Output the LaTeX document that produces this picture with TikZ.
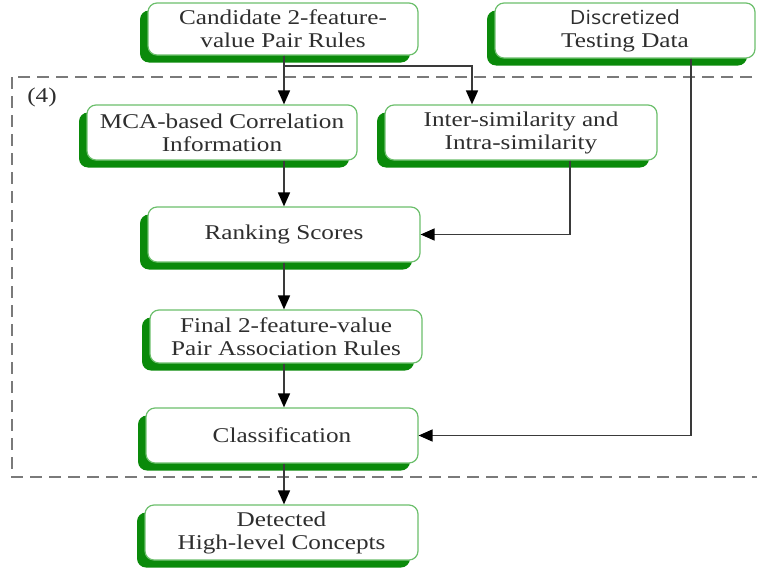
\documentclass[tikz,border=0pt]{standalone}
\usepackage{fontspec}
\setmainfont{Liberation Serif}[FakeStretch=1.2]
\newfontfamily\discfont{Open Sans}[FakeStretch=1.1]
\usetikzlibrary{arrows.meta,shadows}

\definecolor{boxgreen}{HTML}{6CBF6C}
\definecolor{shadowgreen}{HTML}{0A8A0A}
\definecolor{textgray}{HTML}{2E2E2E}
\definecolor{linegray}{HTML}{3A3A3A}
\definecolor{dashgray}{HTML}{7A7A7A}

\tikzset{
  stagebox/.style={
    draw=boxgreen, line width=1.2pt, fill=white, rounded corners=9pt,
    align=center, text=textgray, inner sep=0pt,
    font=\fontsize{21}{23}\selectfont,
    copy shadow={shadow xshift=-8pt, shadow yshift=-7.5pt,
                 fill=shadowgreen, draw=none}},
  link/.style={draw=linegray, line width=1.6pt,
    -{Triangle[length=14pt,width=12pt,fill=black,color=black]}},
  region/.style={draw=dashgray, line width=1.8pt, dash pattern=on 12pt off 7pt}
}

\begin{document}
\begin{tikzpicture}[x=1pt,y=-1pt]
  \useasboundingbox (0,0) rectangle (757,570);
  \clip (0,0) rectangle (757,570);

  % dashed frame of step (4)
  \draw[region] (12,77) rectangle (780,477);
  \node[text=textgray, font=\fontsize{21}{23}\selectfont] (tag) at (42,97) {(4)};

  % process boxes
  \node[stagebox, minimum width=270pt, minimum height=52pt] (cand) at (283,29)
    {Candidate 2-feature-\\value Pair Rules};
  \node[stagebox, minimum width=260pt, minimum height=55pt] (disc) at (625,30.5)
    {{\discfont\fontsize{19.5}{23}\selectfont Discretized}\\Testing Data};
  \node[stagebox, minimum width=270pt, minimum height=55pt] (mca) at (222,132.5)
    {MCA-based Correlation\\Information};
  \node[stagebox, minimum width=272pt, minimum height=55pt] (inter) at (521,132.5)
    {Inter-similarity and\\Intra-similarity};
  \node[stagebox, minimum width=272pt, minimum height=55pt] (rank) at (284,234.5)
    {Ranking Scores};
  \node[stagebox, minimum width=272pt, minimum height=53pt] (final) at (286,336.5)
    {Final 2-feature-value\\Pair Association Rules};
  \node[stagebox, minimum width=272pt, minimum height=55pt] (class) at (282,435.5)
    {Classification};
  \node[stagebox, minimum width=273pt, minimum height=55pt] (det) at (281.5,532.5)
    {Detected\\High-level Concepts};

  % connector columns
  \coordinate (spine) at (284,0);
  \coordinate (fork) at (472,66);
  \coordinate (simdrop) at (570,0);
  \coordinate (datadrop) at (691,0);

  % connectors
  \draw[link] (cand.south -| spine) -- (mca.north -| spine);
  \draw[link] (cand.south -| spine) |- (fork) -- (inter.north -| fork);
  \draw[link] (mca.south -| spine) -- (rank.north -| spine);
  \draw[link] (inter.south -| simdrop) |- (rank.east);
  \draw[link] (rank.south -| spine) -- (final.north -| spine);
  \draw[link] (final.south -| spine) -- (class.north -| spine);
  \draw[link] (disc.south -| datadrop) |- (class.east);
  \draw[link] (class.south -| spine) -- (det.north -| spine);
\end{tikzpicture}
\end{document}
